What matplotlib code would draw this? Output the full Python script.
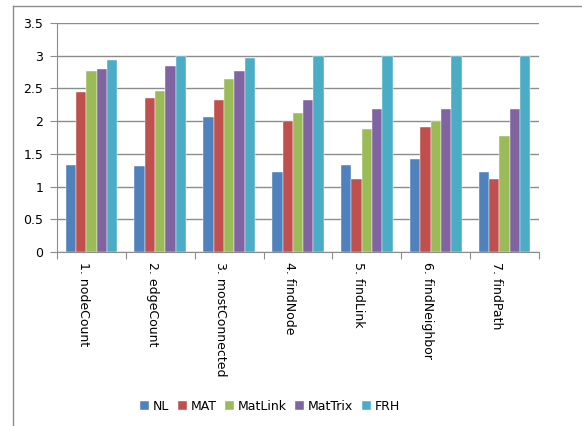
import numpy as np
import matplotlib
matplotlib.use('Agg')
import matplotlib.pyplot as plt
from matplotlib.lines import Line2D

categories = ['1. nodeCount', '2. edgeCount', '3. mostConnected', '4. findNode',
              '5. findLink', '6. findNeighbor', '7. findPath']
series_names = ['NL', 'MAT', 'MatLink', 'MatTrix', 'FRH']
NL = [1.33, 1.31, 2.06, 1.22, 1.33, 1.42, 1.22]
MAT = [2.44, 2.35, 2.33, 2.00, 1.11, 1.91, 1.11]
MatLink = [2.77, 2.46, 2.64, 2.13, 1.88, 2.00, 1.78]
MatTrix = [2.80, 2.85, 2.77, 2.33, 2.19, 2.19, 2.19]
FRH = [2.93, 3.00, 2.96, 3.00, 3.00, 3.00, 3.00]
colors = ['#4F81BD', '#C0504D', '#9BBB59', '#8064A2', '#4BACC6']

plt.rcParams['font.family'] = 'DejaVu Sans'
fig = plt.figure(figsize=(5.82, 4.26), dpi=100)
ax = fig.add_axes([57/582, 174/426, 482/582, 229/426])

x = np.arange(len(categories))
w = 0.75 / 5
for i, vals in enumerate([NL, MAT, MatLink, MatTrix, FRH]):
    ax.bar(x - 0.375 + w*(i+0.5), vals, w, color=colors[i], label=series_names[i],
           edgecolor='white', linewidth=0.3, zorder=3)

ax.set_xlim(-0.5, len(categories) - 0.5)
ax.set_ylim(0, 3.5)
ax.set_yticks(np.arange(0, 3.51, 0.5))
ax.set_yticklabels(['0', '0.5', '1', '1.5', '2', '2.5', '3', '3.5'], fontsize=9)
ax.yaxis.grid(True, color='#8C8C8C', linewidth=1, zorder=0)
ax.tick_params(axis='y', length=5, color='#8C8C8C', pad=5)

ax.set_xticks(np.arange(-0.5, len(categories)), minor=False)
ax.set_xticklabels([])
ax.tick_params(axis='x', length=5, color='#8C8C8C')
for xi, lab in zip(x, categories):
    ax.text(xi - 0.12, -0.16, lab, rotation=270, ha='center', va='top', fontsize=9)

for s in ['top', 'right']:
    ax.spines[s].set_visible(False)
ax.spines['left'].set_color('#8C8C8C')
ax.spines['bottom'].set_color('#8C8C8C')

# outer chart frame
fig.add_artist(Line2D([13/582, 1], [1 - 6/426, 1 - 6/426], color='#8C8C8C', linewidth=1))
fig.add_artist(Line2D([13/582, 13/582], [0, 1 - 6/426], color='#8C8C8C', linewidth=1))

fig.legend(loc='center', bbox_to_anchor=(270/582, 1 - 406/426), ncol=5, frameon=False,
           fontsize=9, handlelength=0.7, handleheight=0.7, handletextpad=0.3,
           columnspacing=0.7)

fig.savefig('out.png', dpi=100)
